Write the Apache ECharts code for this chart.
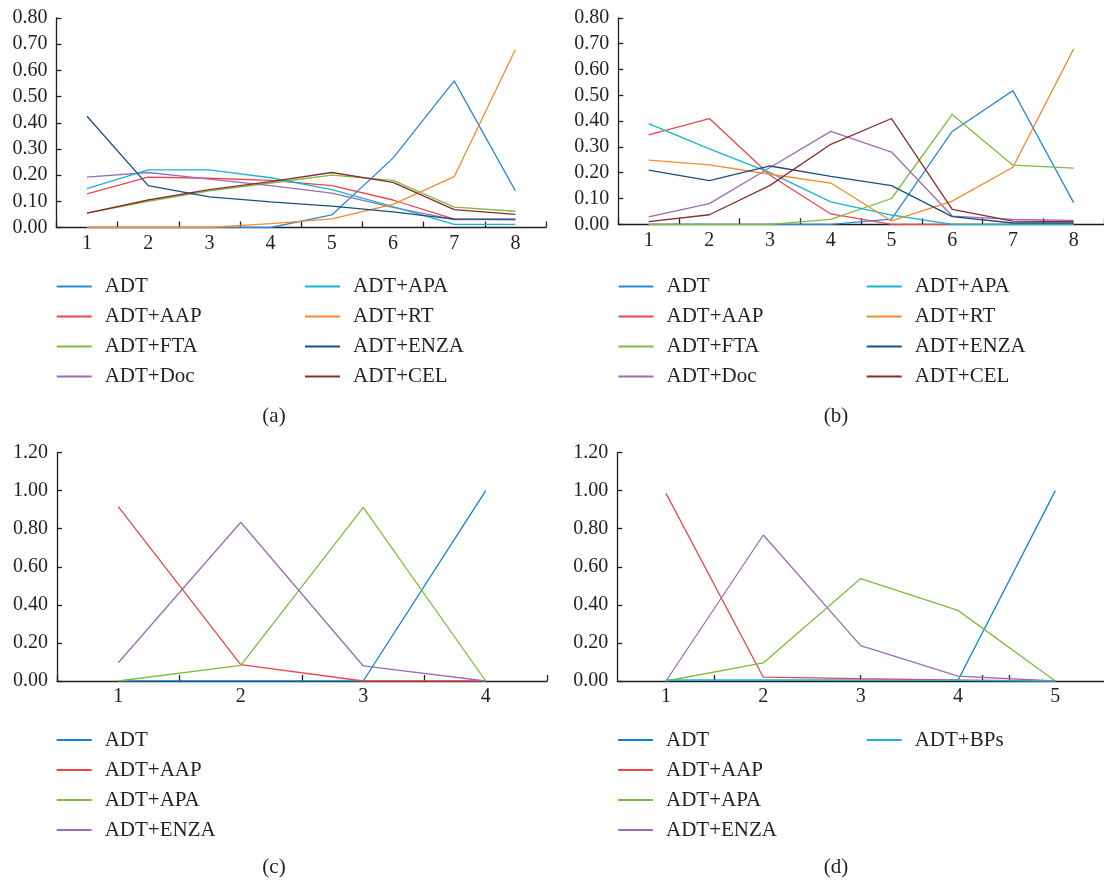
<!DOCTYPE html>
<html>
<head>
<meta charset="utf-8">
<script src="https://cdn.jsdelivr.net/npm/echarts@6/dist/echarts.min.js"></script>
<style>
  html, body { margin: 0; padding: 0; background: #ffffff; }
  #page { position: relative; width: 1104px; height: 881px; overflow: hidden; }
  .panel { position: absolute; }
</style>
</head>
<body>
<div id="page">
  <div id="pa" class="panel" style="left:0;top:0;width:552px;height:440px;"></div>
  <div id="pb" class="panel" style="left:552px;top:0;width:552px;height:440px;"></div>
  <div id="pc" class="panel" style="left:0;top:440px;width:552px;height:441px;"></div>
  <div id="pd" class="panel" style="left:552px;top:440px;width:552px;height:441px;"></div>
</div>
<script>
// Categories (x axis)
const stages8 = ['1', '2', '3', '4', '5', '6', '7', '8'];
const stages4 = ['1', '2', '3', '4'];
const stages5 = ['1', '2', '3', '4', '5'];

// Panel (a)
const aADT  = [0, 0, 0, 0, 0.048, 0.265, 0.56, 0.14];
const aAAP  = [0.128, 0.192, 0.188, 0.18, 0.16, 0.105, 0.032, 0.03];
const aFTA  = [0.055, 0.10, 0.14, 0.17, 0.20, 0.18, 0.078, 0.062];
const aDoc  = [0.192, 0.21, 0.185, 0.16, 0.131, 0.077, 0.03, 0.03];
const aAPA  = [0.148, 0.22, 0.22, 0.19, 0.145, 0.08, 0.012, 0.012];
const aRT   = [0, 0, 0, 0.015, 0.033, 0.088, 0.194, 0.68];
const aENZA = [0.425, 0.16, 0.117, 0.098, 0.082, 0.06, 0.032, 0.032];
const aCEL  = [0.055, 0.105, 0.145, 0.175, 0.21, 0.172, 0.068, 0.05];

// Panel (b)
const bADT  = [0, 0, 0, 0, 0.02, 0.36, 0.518, 0.084];
const bAAP  = [0.347, 0.41, 0.19, 0.04, 0, 0, 0, 0];
const bFTA  = [0, 0, 0, 0.019, 0.10, 0.426, 0.229, 0.218];
const bDoc  = [0.029, 0.08, 0.22, 0.36, 0.28, 0.032, 0.019, 0.015];
const bAPA  = [0.39, 0.292, 0.20, 0.087, 0.036, 0, 0, 0];
const bRT   = [0.249, 0.23, 0.194, 0.16, 0.013, 0.09, 0.221, 0.68];
const bENZA = [0.21, 0.169, 0.226, 0.186, 0.15, 0.03, 0.005, 0.005];
const bCEL  = [0.01, 0.037, 0.151, 0.31, 0.41, 0.058, 0.012, 0.01];

// Panel (c)
const cADT  = [0, 0, 0, 1.0];
const cAAP  = [0.916, 0.086, 0, 0];
const cAPA  = [0, 0.082, 0.912, 0];
const cENZA = [0.096, 0.834, 0.079, 0];

// Panel (d)
const dADT  = [0.004, 0.004, 0.004, 0.004, 1.0];
const dAAP  = [0.986, 0.02, 0.012, 0.005, 0];
const dAPA  = [0, 0.095, 0.538, 0.371, 0];
const dENZA = [0, 0.767, 0.186, 0.026, 0];
const dBPs  = [0.003, 0.003, 0.003, 0.003, 0];

// y-axis tick labels
const yTicksTop = [0, 0.1, 0.2, 0.3, 0.4, 0.5, 0.6, 0.7, 0.8];
const yTicksBottom = [0, 0.2, 0.4, 0.6, 0.8, 1.0, 1.2];

// Extra tick marks drawn along the x axis of panel (d)
const dTickMarks = [1.5, 3, 4.25, 4.53];

const INK = '#231f20';
const SERIF = '"Liberation Serif", "DejaVu Serif", serif';
const COLORS = {
  ADT: '#2b8ad3', AAP: '#e8474c', FTA: '#7cbd41', Doc: '#9a6db6',
  APA: '#19b5d0', RT: '#f58a2e', ENZA: '#19507e', CEL: '#8a2b2e',
  ADTb: '#0d86d0', APAg: '#7cbd41', ENZAp: '#9a6db6', BPs: '#22b4d6'
};

function lineSeries(name, data, color) {
  return {
    type: 'line', name: name, data: data, symbol: 'none',
    lineStyle: { color: color, width: 1.3 }, itemStyle: { color: color },
    emphasis: { disabled: true }, animation: false
  };
}

function legend(names, left, top) {
  return {
    orient: 'vertical', left: left, top: top, data: names, padding: 0,
    icon: 'rect', itemWidth: 35, itemHeight: 2, itemGap: 9, selectedMode: false,
    textStyle: { fontFamily: SERIF, fontSize: 21, color: INK, lineHeight: 21, padding: [0, 0, 0, 8] }
  };
}

function yAxis(max, interval, ticks) {
  return {
    type: 'value', min: ticks[0], max: max, interval: interval,
    axisLine: { show: true, lineStyle: { color: INK, width: 1.3 } },
    axisTick: { show: true, inside: true, length: 5, lineStyle: { color: INK, width: 1.3 } },
    splitLine: { show: false },
    axisLabel: { margin: 9, fontFamily: SERIF, fontSize: 20, color: INK,
      formatter: function (v) { return v.toFixed(2); } }
  };
}

function xAxis(cats, showTicks) {
  return {
    type: 'category', data: cats, boundaryGap: true,
    axisLine: { show: true, onZero: false, lineStyle: { color: INK, width: 1.3 } },
    axisTick: { show: showTicks, inside: true, length: 6, lineStyle: { color: INK, width: 1.3 } },
    axisLabel: { margin: 6, fontFamily: SERIF, fontSize: 20, color: INK }
  };
}

function caption(text, x, y) {
  return {
    type: 'text', x: x, y: y, silent: true,
    style: { text: text, align: 'center', verticalAlign: 'middle', font: '21px ' + SERIF, fill: INK }
  };
}

function make(id, option) {
  const chart = echarts.init(document.getElementById(id), null, { renderer: 'canvas' });
  chart.setOption(option);
}

// (a)
make('pa', {
  animation: false,
  grid: { left: 56.4, top: 18, width: 489.6, height: 209.5 },
  xAxis: xAxis(stages8, true),
  yAxis: yAxis(0.8, 0.1, yTicksTop),
  legend: [
    legend(['ADT', 'ADT+AAP', 'ADT+FTA', 'ADT+Doc'], 56.7, 276),
    legend(['ADT+APA', 'ADT+RT', 'ADT+ENZA', 'ADT+CEL'], 305, 276)
  ],
  series: [
    lineSeries('ADT', aADT, COLORS.ADT),
    lineSeries('ADT+AAP', aAAP, COLORS.AAP),
    lineSeries('ADT+FTA', aFTA, COLORS.FTA),
    lineSeries('ADT+Doc', aDoc, COLORS.Doc),
    lineSeries('ADT+APA', aAPA, COLORS.APA),
    lineSeries('ADT+RT', aRT, COLORS.RT),
    lineSeries('ADT+ENZA', aENZA, COLORS.ENZA),
    lineSeries('ADT+CEL', aCEL, COLORS.CEL)
  ],
  graphic: [caption('(a)', 274, 416.5)]
});

// (b)
make('pb', {
  animation: false,
  grid: { left: 66.3, top: 17.9, width: 490.4, height: 206.4 },
  xAxis: xAxis(stages8, true),
  yAxis: yAxis(0.8, 0.1, yTicksTop),
  legend: [
    legend(['ADT', 'ADT+AAP', 'ADT+FTA', 'ADT+Doc'], 66.5, 276),
    legend(['ADT+APA', 'ADT+RT', 'ADT+ENZA', 'ADT+CEL'], 314.7, 276)
  ],
  series: [
    lineSeries('ADT', bADT, COLORS.ADT),
    lineSeries('ADT+AAP', bAAP, COLORS.AAP),
    lineSeries('ADT+FTA', bFTA, COLORS.FTA),
    lineSeries('ADT+Doc', bDoc, COLORS.Doc),
    lineSeries('ADT+APA', bAPA, COLORS.APA),
    lineSeries('ADT+RT', bRT, COLORS.RT),
    lineSeries('ADT+ENZA', bENZA, COLORS.ENZA),
    lineSeries('ADT+CEL', bCEL, COLORS.CEL)
  ],
  graphic: [caption('(b)', 284, 416.5)]
});

// (c)
make('pc', {
  animation: false,
  grid: { left: 57, top: 12.6, width: 490, height: 228.4 },
  xAxis: xAxis(stages4, true),
  yAxis: yAxis(1.2, 0.2, yTicksBottom),
  legend: [legend(['ADT', 'ADT+AAP', 'ADT+APA', 'ADT+ENZA'], 56.7, 289.5)],
  series: [
    lineSeries('ADT', cADT, COLORS.ADTb),
    lineSeries('ADT+AAP', cAAP, COLORS.AAP),
    lineSeries('ADT+APA', cAPA, COLORS.APAg),
    lineSeries('ADT+ENZA', cENZA, COLORS.ENZAp)
  ],
  graphic: [caption('(c)', 274, 427)]
});

// (d)
const dX = xAxis(stages5, false);
make('pd', {
  animation: false,
  grid: { left: 65.3, top: 12.6, width: 491.5, height: 228.4 },
  xAxis: [
    dX,
    {
      type: 'value', min: 0.5, max: 5.5, position: 'bottom',
      axisLine: { show: false }, splitLine: { show: false }, axisLabel: { show: false },
      axisTick: { show: true, inside: true, length: 6, customValues: dTickMarks,
        lineStyle: { color: INK, width: 1.3 } }
    }
  ],
  yAxis: yAxis(1.2, 0.2, yTicksBottom),
  legend: [
    legend(['ADT', 'ADT+AAP', 'ADT+APA', 'ADT+ENZA'], 66, 289.5),
    legend(['ADT+BPs'], 314.7, 289.5)
  ],
  series: [
    lineSeries('ADT', dADT, COLORS.ADTb),
    lineSeries('ADT+AAP', dAAP, COLORS.AAP),
    lineSeries('ADT+APA', dAPA, COLORS.APAg),
    lineSeries('ADT+ENZA', dENZA, COLORS.ENZAp),
    lineSeries('ADT+BPs', dBPs, COLORS.BPs)
  ],
  graphic: [caption('(d)', 284, 427)]
});
</script>
</body>
</html>
